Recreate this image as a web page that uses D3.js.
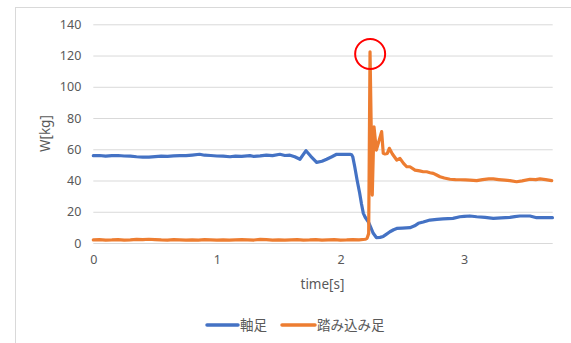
<!DOCTYPE html>
<html><head><meta charset="utf-8">
<script src="https://cdn.jsdelivr.net/npm/d3@7"></script>
<style>html,body{margin:0;padding:0;background:#fff;}svg{display:block;}</style>
</head><body>
<script>
// ---- data ----
const seriesNames = ["軸足", "踏み込み足"];
const seriesColors = ["#4472C4", "#ED7D31"];
const yTicks = [0, 20, 40, 60, 80, 100, 120, 140];
const xTicks = [0, 1, 2, 3];
const xTitle = "time[s]";
const yTitle = "W[kg]";

const blueT = [0,0.05,0.1,0.15,0.2,0.25,0.3,0.35,0.4,0.45,0.5,0.55,0.6,0.65,0.7,0.75,0.8,0.86,0.9,0.95,1.0,1.05,1.106,1.15,1.2,1.267,1.3,1.35,1.4,1.45,1.51,1.55,1.591,1.63,1.672,1.721,1.76,1.807,1.85,1.888,1.93,1.969,2.02,2.077,2.09,2.1,2.115,2.135,2.155,2.17,2.185,2.2,2.225,2.245,2.265,2.29,2.32,2.346,2.37,2.4,2.43,2.455,2.5,2.562,2.6,2.63,2.67,2.724,2.78,2.829,2.87,2.91,2.966,3.0,3.047,3.102,3.17,3.236,3.3,3.371,3.41,3.452,3.533,3.587,3.64,3.695,3.715];
const blueW = [55.9,56.0,55.6,55.9,56.0,55.7,55.6,55.2,55.0,55.0,55.3,55.6,55.5,55.8,55.9,55.9,56.3,56.8,56.2,56.0,55.7,55.6,55.2,55.6,55.5,55.9,55.4,55.8,56.3,55.9,56.8,56.0,56.2,55.2,53.6,59.1,55.5,51.6,52.3,53.6,55.2,56.8,56.7,56.8,56.5,55.0,49.0,40.0,32.0,25.0,19.0,16.5,13.6,10.0,6.2,3.5,3.6,4.2,5.5,7.2,8.5,9.3,9.5,9.8,11.0,12.6,13.4,14.7,15.1,15.4,15.6,15.8,16.8,17.0,17.3,16.8,16.4,15.8,16.1,16.4,16.9,17.3,17.3,16.2,16.3,16.2,16.2];

const orangeT = [0,0.05,0.1,0.15,0.2,0.25,0.3,0.35,0.4,0.45,0.5,0.55,0.6,0.65,0.7,0.75,0.8,0.85,0.9,0.95,1.0,1.05,1.1,1.15,1.2,1.25,1.3,1.35,1.4,1.45,1.5,1.55,1.6,1.65,1.7,1.75,1.8,1.85,1.9,1.95,2.0,2.05,2.1,2.15,2.2,2.215,2.228,2.239,2.257,2.271,2.29,2.333,2.346,2.36,2.379,2.395,2.42,2.455,2.481,2.51,2.536,2.562,2.603,2.64,2.67,2.697,2.725,2.751,2.778,2.805,2.84,2.886,2.93,2.97,3.01,3.047,3.102,3.15,3.2,3.236,3.28,3.33,3.371,3.425,3.47,3.533,3.58,3.614,3.66,3.709];
const orangeW = [2.0,2.1,1.9,2.0,2.2,1.9,2.0,2.3,2.1,2.4,2.2,2.0,1.9,2.1,2.0,1.8,2.0,1.9,2.1,2.0,1.9,2.0,1.8,2.0,2.1,2.0,1.9,2.3,2.2,1.9,2.0,1.8,2.0,2.1,1.9,2.0,2.2,1.9,2.0,2.1,1.9,2.0,2.2,2.0,2.4,3.0,6.0,122.4,30.7,74.4,59.5,71.3,57.4,57.0,57.4,60.6,57.0,53.1,54.2,51.0,48.8,48.8,46.7,46.2,45.6,45.6,45.0,44.6,43.5,42.4,41.6,40.8,40.6,40.5,40.4,40.3,39.9,40.6,41.0,41.0,40.6,40.2,39.9,39.2,39.8,40.8,40.6,41.0,40.6,39.9];

const peakT = 2.24, peakW = 121; // highlighted spike

// ---- layout ----
const W = 571, H = 343;
const svg = d3.select("body").append("svg").attr("width", W).attr("height", H);
const textColor = "#595959";
const gridColor = "#d9d9d9";

svg.append("rect").attr("x", 15.5).attr("y", 7.5).attr("width", W).attr("height", H)
  .attr("fill", "#fff").attr("stroke", gridColor).attr("stroke-width", 1);

const x = d3.scaleLinear().domain([0, 3.717]).range([93.3, 552.7]);
const y = d3.scaleLinear().domain([0, 140]).range([243, 24.3]);

// gridlines + y tick labels
const gy = svg.append("g").attr("transform", `translate(${x.range()[0]},0)`)
  .call(d3.axisLeft(y).tickValues(yTicks).tickSize(-(x.range()[1] - x.range()[0])).tickPadding(12));
gy.select(".domain").remove();
gy.selectAll(".tick line").attr("stroke", gridColor).attr("stroke-width", 1);
gy.selectAll(".tick text").attr("fill", textColor).attr("font-family", "'Noto Sans', sans-serif").attr("font-size", 12.5);

const gx = svg.append("g").attr("transform", `translate(0,${y(0)})`)
  .call(d3.axisBottom(x).tickValues(xTicks).tickSize(0).tickPadding(12).tickFormat(d3.format("d")));
gx.select(".domain").remove();
gx.selectAll(".tick text").attr("fill", textColor).attr("font-family", "'Noto Sans', sans-serif").attr("font-size", 12.5);

// titles
svg.append("text").attr("x", 322.5).attr("y", 289).attr("text-anchor", "middle")
  .attr("fill", textColor).attr("font-family", "'Noto Sans', sans-serif").attr("font-size", 13.5).text(xTitle);
svg.append("text").attr("transform", `translate(50,${(y(0) + y(140)) / 2}) rotate(-90)`).attr("text-anchor", "middle")
  .attr("fill", textColor).attr("font-family", "'Noto Sans', sans-serif").attr("font-size", 13.5).text(yTitle);

// lines
const line = d3.line().x(d => x(d[0])).y(d => y(d[1]));
const blueData = blueT.map((t, i) => [t, blueW[i]]);
const orangeData = orangeT.map((t, i) => [t, orangeW[i]]);
[blueData, orangeData].forEach((data, i) => {
  svg.append("path").datum(data).attr("d", line).attr("fill", "none")
    .attr("stroke", seriesColors[i]).attr("stroke-width", 3.2)
    .attr("stroke-linejoin", "round").attr("stroke-linecap", "round");
});

// highlight circle
svg.append("circle").attr("cx", x(peakT)).attr("cy", y(peakW)).attr("r", 15)
  .attr("fill", "none").attr("stroke", "#FF0000").attr("stroke-width", 2);

// legend
const legend = [{x0: 207, x1: 238, tx: 240}, {x0: 282, x1: 315, tx: 317}];
legend.forEach((l, i) => {
  svg.append("line").attr("x1", l.x0).attr("x2", l.x1).attr("y1", 325).attr("y2", 325)
    .attr("stroke", seriesColors[i]).attr("stroke-width", 3.5).attr("stroke-linecap", "round");
  svg.append("text").attr("x", l.tx).attr("y", 330).attr("fill", textColor)
    .attr("font-family", "'Noto Sans CJK JP', sans-serif").attr("font-size", 13.5).text(seriesNames[i]);
});
</script>
</body></html>
